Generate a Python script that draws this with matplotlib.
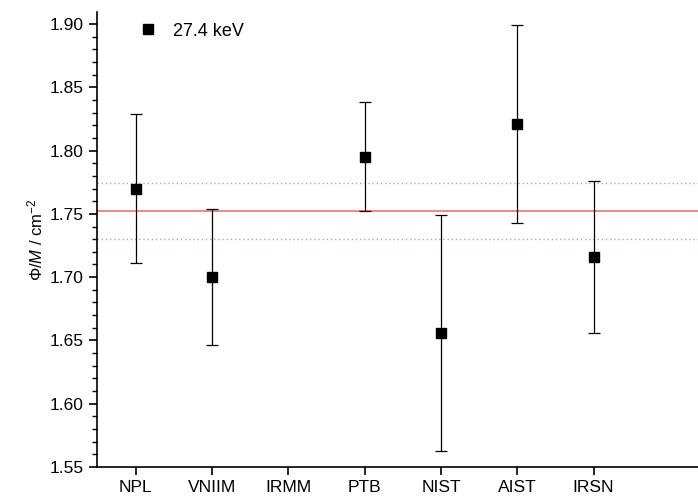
import matplotlib
matplotlib.use('Agg')
import matplotlib.pyplot as plt
from matplotlib.ticker import MultipleLocator

plt.rcParams['font.family'] = ['Liberation Sans', 'DejaVu Sans']
plt.rcParams['mathtext.fontset'] = 'custom'
plt.rcParams['mathtext.it'] = 'Liberation Sans:italic'
plt.rcParams['mathtext.rm'] = 'Liberation Sans'

labs = ['NPL', 'VNIIM', 'IRMM', 'PTB', 'NIST', 'AIST', 'IRSN']
pos = [1, 2, 4, 5, 6, 7]
vals = [1.770, 1.700, 1.795, 1.656, 1.821, 1.716]
lo = [1.711, 1.646, 1.752, 1.563, 1.743, 1.656]
hi = [1.829, 1.754, 1.838, 1.749, 1.899, 1.776]
ref, ref_lo, ref_hi = 1.752, 1.730, 1.774

err = [[v - l for v, l in zip(vals, lo)], [h - v for v, h in zip(vals, hi)]]

fig = plt.figure(figsize=(6.98, 4.97), dpi=100)
ax = fig.add_axes([97 / 698, 30 / 497, 601 / 698, 455 / 497])

ax.axhline(ref, color='#f47c7c', lw=1.3, zorder=1)
for y in (ref_lo, ref_hi):
    ax.axhline(y, color='#f78a8a', lw=1.0, ls=(0, (1, 2)), zorder=1)

ax.errorbar(pos, vals, yerr=err, fmt='none', ecolor='black',
            elinewidth=0.9, capsize=4, capthick=0.9, zorder=3)
ax.plot(pos, vals, 's', color='black', ms=7.5, ls='none', label='27.4 keV', zorder=4)

ax.set_xlim(0.49, 8.37)
ax.set_ylim(1.55, 1.9095)
ax.set_xticks(range(1, len(labs) + 1))
ax.set_xticklabels(labs)
ax.yaxis.set_major_locator(MultipleLocator(0.05))
ax.yaxis.set_minor_locator(MultipleLocator(0.01))
ax.yaxis.set_major_formatter(plt.FormatStrFormatter('%.2f'))
ax.tick_params(axis='both', which='major', direction='out', length=6, width=1.2, labelsize=12.5)
ax.tick_params(axis='y', which='minor', direction='out', length=3.5, width=1.0)
ax.tick_params(axis='x', pad=3)
for s in ('top', 'right'):
    ax.spines[s].set_visible(False)
for s in ('left', 'bottom'):
    ax.spines[s].set_linewidth(1.2)

ax.set_ylabel(r'$\mathit{Φ/M}$ / cm$^{-2}$', fontsize=12, labelpad=3)
ax.legend(loc='upper left', bbox_to_anchor=(0.027, 1.012), frameon=False,
          fontsize=13, handletextpad=0.4, numpoints=1)

fig.savefig('out.png', dpi=100)
